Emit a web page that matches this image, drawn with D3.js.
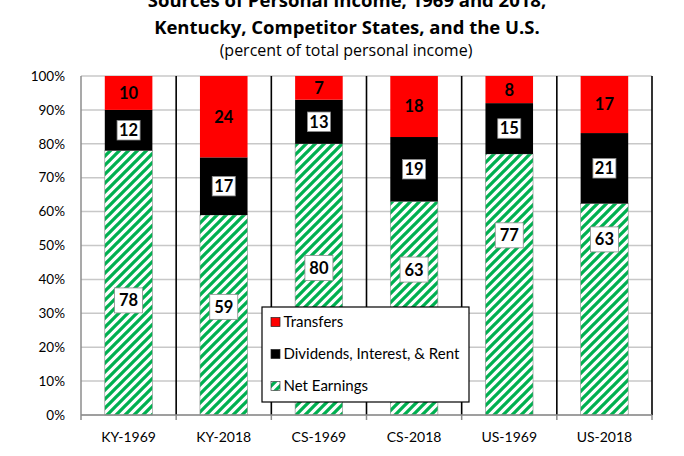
<!DOCTYPE html>
<html>
<head>
<meta charset="utf-8">
<script src="https://cdn.jsdelivr.net/npm/d3@7"></script>
<style>
  html, body { margin: 0; padding: 0; background: #fff; }
  svg { display: block; }
  text { font-family: Lato, "Noto Sans", sans-serif; }
</style>
</head>
<body>
<svg id="chart" width="684" height="456"></svg>
<script>
// ---- Data ----
const categories = ["KY-1969", "KY-2018", "CS-1969", "CS-2018", "US-1969", "US-2018"];
const netEarnings = [78, 59, 80, 63, 77, 63];
const dividends   = [12, 17, 13, 19, 15, 21];
const transfers   = [10, 24, 7, 18, 8, 17];
// where the (manually moved) Net Earnings labels sit, as share of the bar
const netLabelAt  = [0.338, 0.319, 0.434, 0.429, 0.53, 0.518];
const yTicks = [0, 0.1, 0.2, 0.3, 0.4, 0.5, 0.6, 0.7, 0.8, 0.9, 1.0];
const seriesNames = ["Transfers", "Dividends, Interest, & Rent", "Net Earnings"];

const rows = categories.map((c, i) => ({ cat: c, net: netEarnings[i], div: dividends[i], trans: transfers[i] }));

const svg = d3.select("#chart");
const plot = { left: 81, right: 652, top: 76, bottom: 415 };

// hatch pattern
const defs = svg.append("defs");
const pat = defs.append("pattern")
  .attr("id", "hatch").attr("patternUnits", "userSpaceOnUse")
  .attr("width", 9).attr("height", 9);
pat.append("rect").attr("width", 9).attr("height", 9).attr("fill", "#fff");
pat.append("path")
  .attr("d", "M-1,10 L10,-1 M-3,3 L3,-3 M6,12 L12,6")
  .attr("stroke", "#00B050").attr("stroke-width", 3.3);

const x = d3.scaleBand().domain(categories).range([plot.left, plot.right]).padding(0);
const y = d3.scaleLinear().domain([0, 1]).range([plot.bottom, plot.top]);
const barW = x.bandwidth() * 0.5;

// gridlines
svg.append("g").selectAll("line").data(yTicks).join("line")
  .attr("x1", plot.left).attr("x2", plot.right)
  .attr("y1", d => y(d)).attr("y2", d => y(d))
  .attr("stroke", "#c8c8c8").attr("stroke-width", 1.5);

// stacked bars
const stack = d3.stack().keys(["net", "div", "trans"]).offset(d3.stackOffsetExpand);
const series = stack(rows);
const fills = { net: "url(#hatch)", div: "#000000", trans: "#FF0000" };

const gBars = svg.append("g");
series.forEach(s => {
  gBars.append("g").selectAll("rect").data(s).join("rect")
    .attr("x", d => x(d.data.cat) + (x.bandwidth() - barW) / 2)
    .attr("width", barW)
    .attr("y", d => y(d[1]))
    .attr("height", d => y(d[0]) - y(d[1]))
    .attr("fill", fills[s.key])
    .attr("stroke", s.key === "net" ? "#8a8a8a" : "none")
    .attr("stroke-width", 0.6);
});

// vertical separators
const seps = categories.slice(1).map(c => x(c)).concat([plot.right]);
svg.append("g").selectAll("line").data(seps).join("line")
  .attr("x1", d => d).attr("x2", d => d)
  .attr("y1", plot.top).attr("y2", plot.bottom)
  .attr("stroke", "#000").attr("stroke-width", 1.6);

// axes lines
svg.append("line").attr("x1", plot.left).attr("x2", plot.left)
  .attr("y1", plot.top).attr("y2", plot.bottom)
  .attr("stroke", "#8c8c8c").attr("stroke-width", 1.5);
svg.append("line").attr("x1", plot.left).attr("x2", plot.right)
  .attr("y1", plot.bottom).attr("y2", plot.bottom)
  .attr("stroke", "#8c8c8c").attr("stroke-width", 1.5);

// x tick marks
const xTickPos = [plot.left].concat(seps);
svg.append("g").selectAll("line").data(xTickPos).join("line")
  .attr("x1", d => d).attr("x2", d => d)
  .attr("y1", plot.bottom).attr("y2", plot.bottom + 5)
  .attr("stroke", "#8c8c8c").attr("stroke-width", 1.5);

// y axis labels
svg.append("g").selectAll("text").data(yTicks).join("text")
  .attr("x", 65).attr("y", d => y(d))
  .attr("dy", "0.35em").attr("text-anchor", "end")
  .attr("font-size", 13.5).attr("fill", "#000")
  .text(d3.format(".0%"));

// x axis labels
svg.append("g").selectAll("text").data(categories).join("text")
  .attr("x", d => x(d) + x.bandwidth() / 2).attr("y", 437)
  .attr("dy", "0.35em").attr("text-anchor", "middle")
  .attr("font-size", 14).attr("fill", "#000")
  .text(d => d);

// data labels
function boxedLabel(g, cx, cy, txt, w, h) {
  g.append("rect").attr("x", cx - w / 2).attr("y", cy - h / 2)
    .attr("width", w).attr("height", h)
    .attr("fill", "#fff").attr("stroke", "#8c8c8c").attr("stroke-width", 0.8);
  g.append("text").attr("x", cx).attr("y", cy).attr("dy", "0.36em")
    .attr("text-anchor", "middle").attr("font-size", 16.5).attr("font-weight", "bold")
    .text(txt);
}
const gLab = svg.append("g");
const sDiv = series[1], sTr = series[2];
rows.forEach((r, i) => {
  const cx = x(r.cat) + x.bandwidth() / 2;
  boxedLabel(gLab, cx, y(netLabelAt[i]), r.net, 28, 25);
  boxedLabel(gLab, cx, y((sDiv[i][0] + sDiv[i][1]) / 2), r.div, 23, 19.5);
  gLab.append("text").attr("x", cx).attr("y", y((sTr[i][0] + sTr[i][1]) / 2))
    .attr("dy", "0.36em").attr("text-anchor", "middle")
    .attr("font-size", 16.5).attr("font-weight", "bold").text(r.trans);
});

// legend
const lg = svg.append("g");
lg.append("rect").attr("x", 262).attr("y", 307).attr("width", 207).attr("height", 95)
  .attr("fill", "#fff").attr("stroke", "#000").attr("stroke-width", 1.2);
const legendFills = ["#FF0000", "#000000", "url(#hatch)"];
seriesNames.forEach((n, i) => {
  const cy = 322 + i * 32;
  lg.append("rect").attr("x", 271).attr("y", cy - 4.5).attr("width", 9).attr("height", 9)
    .attr("fill", legendFills[i]).attr("stroke", i === 2 ? "#444" : "#222").attr("stroke-width", 0.7);
  lg.append("text").attr("x", 283.5).attr("y", cy).attr("dy", "0.35em")
    .attr("font-size", 15).text(n);
});

// titles
const titleFont = "'Open Sans', Lato, sans-serif";
svg.append("text").attr("x", 347).attr("y", 7).attr("text-anchor", "middle")
  .style("font-family", titleFont)
  .attr("font-size", 18.5).attr("font-weight", "bold").text("Sources of Personal Income, 1969 and 2018,");
svg.append("text").attr("x", 347).attr("y", 34).attr("text-anchor", "middle")
  .style("font-family", titleFont)
  .attr("font-size", 18.5).attr("font-weight", "bold").text("Kentucky, Competitor States, and the U.S.");
svg.append("text").attr("x", 346).attr("y", 56).attr("text-anchor", "middle")
  .style("font-family", titleFont)
  .attr("font-size", 16).text("(percent of total personal income)");
</script>
</body>
</html>
